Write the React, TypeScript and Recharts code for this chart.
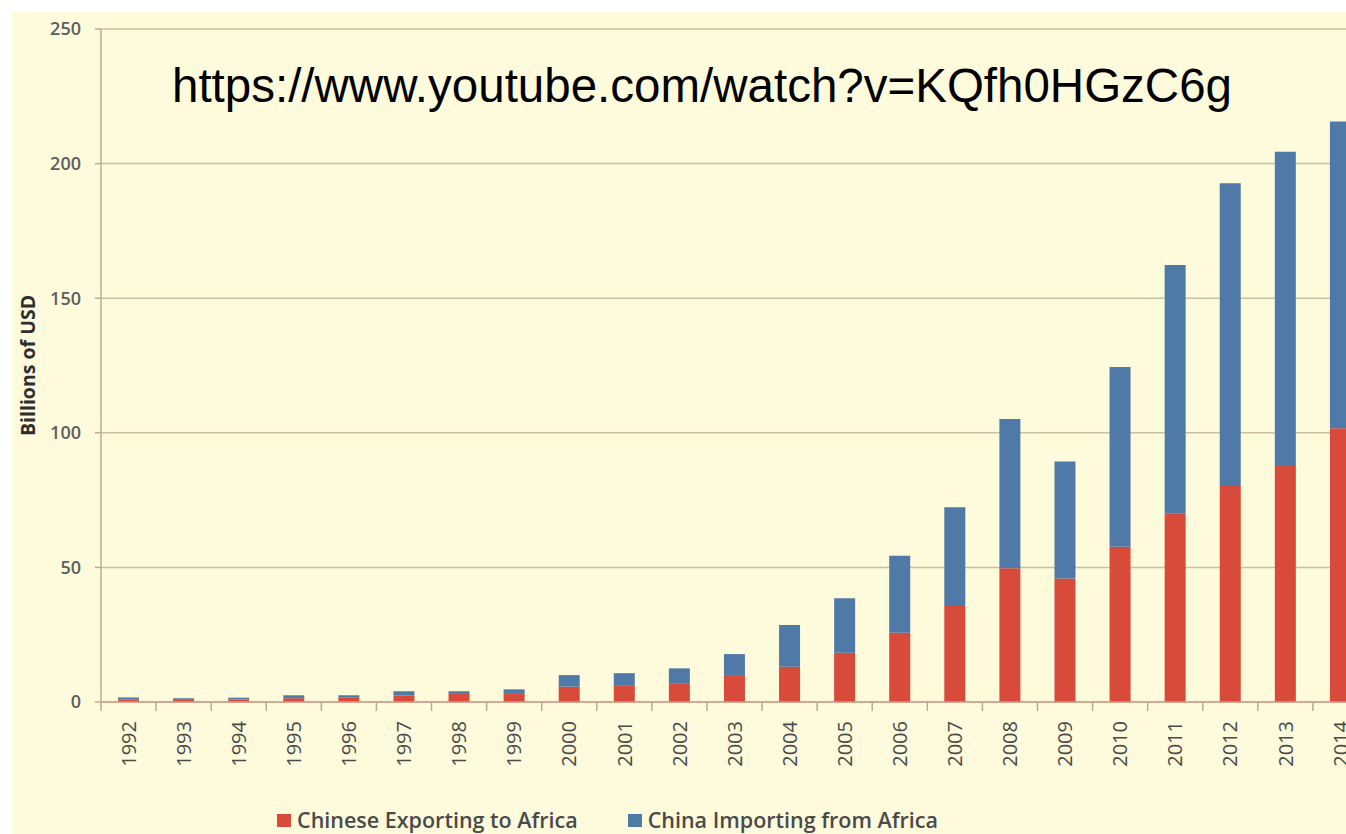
import React from 'react';
import { BarChart, Bar, XAxis, YAxis, CartesianGrid, Legend, Label } from 'recharts';

const years = ['1992','1993','1994','1995','1996','1997','1998','1999','2000','2001','2002','2003','2004','2005','2006','2007','2008','2009','2010','2011','2012','2013','2014'];
const exportsToAfrica = [1.0, 0.8, 0.9, 1.4, 1.6, 2.4, 3.0, 3.0, 5.7, 6.0, 7.0, 10.0, 13.1, 18.3, 25.7, 36.0, 49.7, 45.9, 57.7, 70.1, 80.6, 88.0, 101.7];
const importsFromAfrica = [0.7, 0.6, 0.7, 1.1, 0.9, 1.6, 1.0, 1.7, 4.3, 4.7, 5.5, 7.8, 15.5, 20.2, 28.6, 36.3, 55.4, 43.4, 66.7, 92.2, 112.1, 116.4, 113.9];
const yTicks = [0, 50, 100, 150, 200, 250];
const seriesNames = ['Chinese Exporting to Africa', 'China Importing from Africa'];
const watermark = 'https://www.youtube.com/watch?v=KQfh0HGzC6g';

const data = years.map((y, i) => ({ year: y, exp: exportsToAfrica[i], imp: importsFromAfrica[i] }));

const RED = '#d84a3a';
const BLUE = '#4f7aa8';
const CREAM = '#fefadc';
const GRID = '#cbc0a0';
const AXIS = '#b8ad90';
const XAXIS = '#d29c8a';
const FONT = '"Open Sans", Lato, sans-serif';

const CHART_W = 1400;
const CHART_H = 834;
const MARGIN = { top: 29, right: 32, left: 0, bottom: 0 };
const YAXIS_W = 101;
const STEP = (CHART_W - MARGIN.left - MARGIN.right - YAXIS_W) / years.length;

const XTick = (props: any) => {
  const { x, y, payload } = props;
  const half = STEP / 2;
  const ty = y + 19;
  return (
    <g>
      <line x1={x - half} y1={y} x2={x - half} y2={y + 9} stroke={AXIS} strokeWidth={1.5} />
      <text
        x={x}
        y={ty}
        dy="0.36em"
        transform={`rotate(-90, ${x}, ${ty})`}
        textAnchor="end"
        fill="#4a4a4a"
        fontSize={20}
        fontWeight={500}
        fontFamily={FONT}
      >
        {payload.value}
      </text>
    </g>
  );
};

const LegendContent = () => (
  <div style={{ height: 42, display: 'flex', alignItems: 'flex-start', paddingTop: 16, boxSizing: 'border-box', fontFamily: FONT, fontSize: 21.5, fontWeight: 600, lineHeight: '24px', color: '#4a4a4a', whiteSpace: 'nowrap' }}>
    <div style={{ display: 'flex', alignItems: 'center' }}>
      <span style={{ display: 'inline-block', width: 14, height: 13, background: RED, marginRight: 6 }} />
      <span>{seriesNames[0]}</span>
    </div>
    <div style={{ display: 'flex', alignItems: 'center', marginLeft: 50 }}>
      <span style={{ display: 'inline-block', width: 14, height: 13, background: BLUE, marginRight: 6 }} />
      <span>{seriesNames[1]}</span>
    </div>
  </div>
);

const YLabel = (props: any) => {
  const vb = props.viewBox || { x: 0, y: 0, width: 0, height: 0 };
  const cx = vb.x + 28;
  const cy = vb.y + vb.height / 2;
  return (
    <text x={cx} y={cy} dy="0.35em" transform={`rotate(-90, ${cx}, ${cy})`} textAnchor="middle" fontFamily={FONT} fontWeight="bold" fontSize={19.5} fill="#2e2e2e">
      Billions of USD
    </text>
  );
};

export default function App() {
  return (
    <div style={{ position: 'fixed', left: 0, top: 0, width: 1346, height: 834, overflow: 'hidden', background: '#ffffff' }}>
      <div style={{ position: 'absolute', left: 12, top: 12, width: 1400, height: 900, background: CREAM }} />
      <div style={{ position: 'absolute', left: 0, top: 0 }}>
        <BarChart width={CHART_W} height={CHART_H} data={data} margin={MARGIN} barSize={21}>
          <CartesianGrid vertical={false} stroke={GRID} strokeWidth={1.5} />
          <XAxis
            dataKey="year"
            height={90}
            interval={0}
            tickSize={0}
            tickMargin={0}
            tickLine={false}
            axisLine={{ stroke: XAXIS, strokeWidth: 1.5 }}
            tick={<XTick />}
          />
          <YAxis
            width={YAXIS_W}
            domain={[0, 250]}
            ticks={yTicks}
            interval={0}
            tickSize={6}
            tickMargin={14}
            axisLine={{ stroke: AXIS, strokeWidth: 1.5 }}
            tickLine={{ stroke: AXIS, strokeWidth: 1.5 }}
            tick={{ fill: '#5e5e5e', fontSize: 18, fontFamily: FONT, fontWeight: 600 }}
          >
            <Label content={<YLabel />} />
          </YAxis>
          <Legend verticalAlign="bottom" content={<LegendContent />} wrapperStyle={{ left: 277, bottom: 0, width: 900 }} />
          <Bar dataKey="exp" name={seriesNames[0]} stackId="a" fill={RED} isAnimationActive={false} />
          <Bar dataKey="imp" name={seriesNames[1]} stackId="a" fill={BLUE} isAnimationActive={false} />
        </BarChart>
      </div>
      <svg style={{ position: 'absolute', left: 0, top: 0, pointerEvents: 'none' }} width={1346} height={834}>
        <text x={172} y={102} fontFamily='"Liberation Sans", Arial, sans-serif' fontSize={47.5} fill="#000000">
          {watermark}
        </text>
      </svg>
    </div>
  );
}
